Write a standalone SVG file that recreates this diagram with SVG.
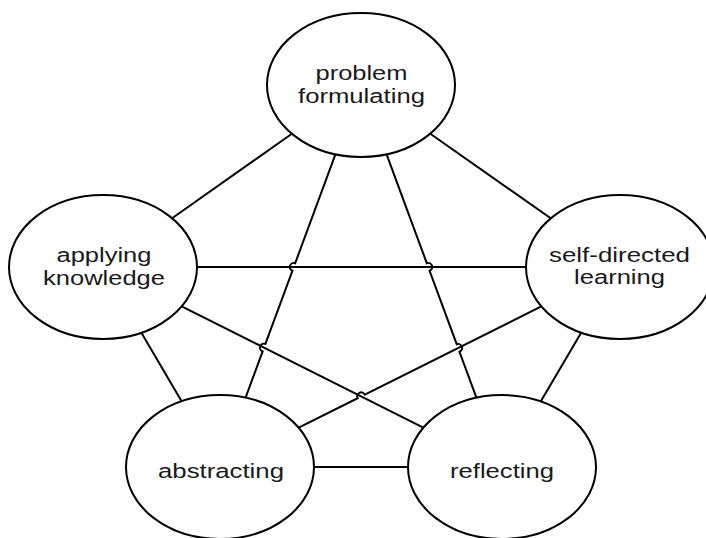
<svg xmlns="http://www.w3.org/2000/svg" width="706" height="538" viewBox="0 0 706 538">
<style>
.node ellipse{fill:#ffffff;stroke:#000000;stroke-width:2}
.node text{font-family:"Liberation Sans",Arial,sans-serif;font-size:20px;fill:#1a1a1a;text-anchor:middle}
.edges path,.edges line{fill:none;stroke:#000000;stroke-width:2}
</style>
<rect x="0" y="0" width="706" height="538" fill="#ffffff"/>
<g class="edges" id="connectors">
<line x1="291.9" y1="133.8" x2="172.1" y2="218.2"/>
<line x1="430.3" y1="133.7" x2="550.7" y2="218.3"/>
<path d="M335.4,154.3 L295.2,263.2 A4,4 0 0 0 292.4,270.8 L265.4,343.9 A4,4 0 0 0 262.6,351.5 L245.6,397.7"/>
<path d="M386.6,154.3 L426.8,263.2 A4,4 0 0 1 429.6,270.8 L456.7,344.2 A4,4 0 0 1 459.5,351.8 L476.4,397.7"/>
<line x1="197" y1="267" x2="526" y2="267"/>
<line x1="141.4" y1="332.7" x2="181.6" y2="401.3"/>
<line x1="181.7" y1="306.4" x2="423.3" y2="427.6"/>
<path d="M541.3,306.4 L364.8,394.6 A4,4 0 0 0 357.6,398.2 L298.7,427.6"/>
<line x1="581.3" y1="332.6" x2="540.7" y2="401.4"/>
<line x1="314" y1="467" x2="408" y2="467"/>
</g>
<g class="node" id="problem-formulating">
<ellipse cx="361" cy="85" rx="94" ry="72"/>
<text x="361.5" y="80" textLength="92" lengthAdjust="spacingAndGlyphs">problem</text>
<text x="361.5" y="103" textLength="127" lengthAdjust="spacingAndGlyphs">formulating</text>
</g>
<g class="node" id="applying-knowledge">
<ellipse cx="103" cy="267" rx="94" ry="72"/>
<text x="104" y="262" textLength="95" lengthAdjust="spacingAndGlyphs">applying</text>
<text x="104" y="285" textLength="122" lengthAdjust="spacingAndGlyphs">knowledge</text>
</g>
<g class="node" id="self-directed-learning">
<ellipse cx="620" cy="267" rx="94" ry="72"/>
<text x="619.5" y="262" textLength="141" lengthAdjust="spacingAndGlyphs">self-directed</text>
<text x="619.5" y="284" textLength="91" lengthAdjust="spacingAndGlyphs">learning</text>
</g>
<g class="node" id="abstracting">
<ellipse cx="220" cy="467" rx="94" ry="72"/>
<text x="221" y="478" textLength="126" lengthAdjust="spacingAndGlyphs">abstracting</text>
</g>
<g class="node" id="reflecting">
<ellipse cx="502" cy="467" rx="94" ry="72"/>
<text x="502" y="478" textLength="104" lengthAdjust="spacingAndGlyphs">reflecting</text>
</g>
</svg>
